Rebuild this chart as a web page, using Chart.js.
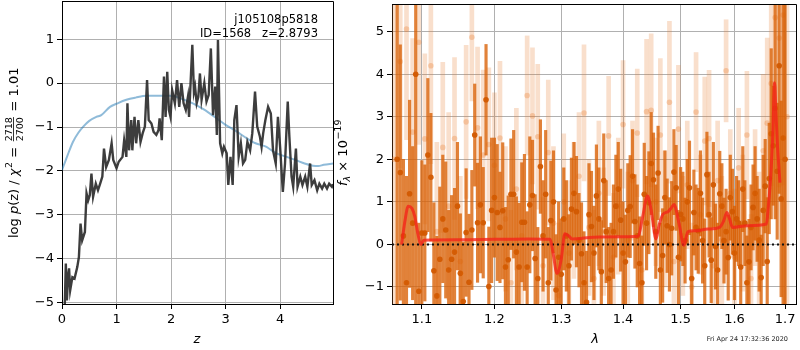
<!DOCTYPE html>
<html>
<head>
<meta charset="utf-8">
<script src="https://cdn.jsdelivr.net/npm/chart.js@4.4.0/dist/chart.umd.min.js"></script>
<style>
body{margin:0;background:#fff;}
#wrap{position:relative;width:800px;height:350px;overflow:hidden;}
#left_box{position:absolute;left:0;top:0;}
#right_box{position:absolute;left:325px;top:0;}
</style>
</head>
<body>
<div id="wrap">
  <canvas id="left_box" width="340" height="350"></canvas>
  <canvas id="right_box" width="475" height="350"></canvas>
</div>
<script>
// ---- left panel: redshift p(z) ----
var obj_name = 'j105108p5818';
var obj_info = 'ID=1568   z=2.8793';
var chi2_num = '2718', chi2_den = '2700', chi2_val = '1.01';

var z_grid = [0.05,0.07,0.09,0.11,0.13,0.15,0.19,0.23,0.28,0.31,0.34,0.37,0.42,0.45,0.48,0.51,0.54,0.57,0.62,0.66,
  0.70,0.74,0.77,0.81,0.86,0.91,0.94,1.00,1.04,1.11,1.14,1.18,1.20,1.23,1.27,1.29,1.33,1.36,1.40,1.44,
  1.48,1.52,1.56,1.59,1.64,1.68,1.73,1.77,1.79,1.83,1.87,1.90,1.93,1.96,1.99,2.02,2.07,2.11,2.15,2.19,
  2.23,2.27,2.31,2.33,2.39,2.42,2.44,2.47,2.50,2.53,2.56,2.61,2.65,2.69,2.73,2.77,2.81,2.84,2.86,2.90,
  2.94,2.97,3.02,3.05,3.09,3.13,3.16,3.20,3.24,3.28,3.32,3.36,3.40,3.45,3.49,3.54,3.58,3.63,3.66,3.69,
  3.73,3.78,3.83,3.87,3.92,3.96,4.00,4.05,4.09,4.14,4.17,4.21,4.24,4.29,4.32,4.37,4.41,4.46,4.50,4.55,
  4.58,4.63,4.68,4.72,4.77,4.81,4.86,4.90,4.95,4.97];
var logp = [-5.1,-4.11,-4.95,-4.4,-4.22,-4.72,-4.42,-4.45,-4.19,-3.96,-3.2,-3.58,-3.39,-2.51,-2.67,-2.55,-2.06,-2.59,-2.29,-2.44,
  -2.29,-2.13,-1.49,-1.91,-1.75,-1.37,-1.75,-1.94,-1.79,-1.68,-1.30,-1.68,-0.46,-1.53,-0.84,-1.53,-0.77,-1.37,-0.84,-1.34,
  -1.14,-0.99,0.07,-0.84,-0.92,-1.11,-1.18,-1.07,-0.80,-1.30,0.15,-0.77,0.26,-0.61,-0.77,-0.16,-0.46,0.07,-0.54,0.0,
  -0.46,-0.61,-0.31,-0.77,0.87,-0.2,-0.08,-0.46,-0.31,0.22,-0.38,0.0,-0.42,-0.27,0.79,-0.73,-0.08,-1.18,0.98,-1.37,
  -1.6,-1.45,-1.6,-2.32,-1.68,-2.32,-0.84,-0.50,-1.68,-1.37,-1.83,-1.75,-1.34,-1.53,-1.14,-0.19,-0.99,-1.22,-1.45,-1.14,
  -0.84,-0.54,-0.69,-1.53,-1.83,-0.77,-1.45,-2.48,-1.83,-0.42,-1.22,-2.13,-2.36,-1.49,-2.36,-2.13,-2.32,-2.13,-2.36,-1.83,
  -2.32,-2.21,-2.44,-2.29,-2.40,-2.29,-2.40,-2.29,-2.36,-2.3];
var z_prior = [0,0.1,0.2,0.3,0.39,0.5,0.63,0.72,0.88,1.0,1.18,1.35,1.55,1.75,1.98,2.2,2.4,2.6,2.8,3.0,
  3.2,3.38,3.55,3.75,3.9,4.12,4.3,4.45,4.6,4.7,4.8,4.97];
var logp_prior = [-1.98,-1.65,-1.34,-1.13,-0.99,-0.86,-0.77,-0.73,-0.54,-0.47,-0.38,-0.33,-0.29,-0.29,-0.29,-0.36,-0.46,-0.6,-0.77,-0.95,
  -1.1,-1.25,-1.37,-1.45,-1.58,-1.68,-1.76,-1.83,-1.88,-1.89,-1.86,-1.83];
var z_ticks = [0,1,2,3,4];
var logp_ticks = [-5,-4,-3,-2,-1,0,1];

// ---- right panel: spectrum (a = faint, b/c = strong) ----
var lam_a = [1.064,1.072,1.080,1.088,1.096,1.104,1.112,1.120,1.128,1.136,1.144,1.152,1.160,1.168,1.176,1.184,1.192,1.200,1.208,1.216,
  1.224,1.232,1.240,1.248,1.256,1.264,1.272,1.280,1.288,1.296,1.304,1.312,1.320,1.328,1.336,1.344,1.352,1.360,1.368,1.376,
  1.384,1.392,1.400,1.408,1.416,1.424,1.432,1.440,1.448,1.456,1.464,1.472,1.480,1.488,1.496,1.504,1.512,1.520,1.528,1.536,
  1.544,1.552,1.560,1.568,1.576,1.584,1.592,1.600,1.608,1.616,1.624,1.632,1.640,1.648,1.656,1.664,1.672,1.680,1.688,1.696,1.704];
var flux_a = [2.0,4.3,5.06,2.64,4.75,2.48,4.2,0.3,2.28,0.9,
  2.49,-0.4,2.88,4.87,2.74,2.1,2.35,1.86,2.5,0.6,
  -0.9,1.3,0.2,3.5,3.02,2.53,-0.5,2.16,0.5,-1.2,
  1.0,-0.2,0.8,1.6,3.09,0.4,-0.8,1.2,0.3,2.55,
  -0.3,0.9,2.82,0.1,1.5,2.62,-0.6,3.12,3.15,1.0,
  2.57,0.6,3.34,-0.4,2.71,0.2,1.4,-1.0,3.11,0.7,
  2.43,2.49,-0.5,1.5,0.1,4.08,1.2,-0.3,1.8,0.5,
  2.57,-0.8,1.1,0.0,2.2,2.85,3.78,5.33,4.85,5.39,3.0];
var err_a = [6.0,2.5,2.6,2.2,2.4,2.0,2.3,2.1,2.0,2.2,
  1.9,2.0,1.8,1.5,1.9,2.0,1.8,1.7,1.8,1.7,
  1.7,1.9,1.8,1.4,1.6,1.7,1.6,1.7,1.8,1.7,
  1.6,1.7,1.6,1.5,1.6,1.6,1.6,1.7,1.5,1.4,
  1.5,1.6,1.5,1.6,1.4,1.5,1.6,1.7,1.8,1.5,
  1.8,1.6,1.9,1.7,1.5,1.4,1.5,1.5,1.4,1.4,
  1.5,1.6,1.5,1.4,1.5,1.2,1.5,1.6,1.4,1.6,
  1.5,1.5,1.6,1.7,1.8,2.0,2.4,3.0,3.5,4.0,5.0];
var lam_b = [1.068,1.076,1.084,1.092,1.100,1.108,1.116,1.124,1.132,1.140,1.148,1.156,1.164,1.172,1.180,1.188,1.196,1.204,1.212,1.220,
  1.228,1.236,1.244,1.252,1.260,1.268,1.276,1.284,1.292,1.300,1.308,1.316,1.324,1.332,1.340,1.348,1.356,1.364,1.372,1.380,
  1.388,1.396,1.404,1.412,1.420,1.428,1.436,1.444,1.452,1.460,1.468,1.476,1.484,1.492,1.500,1.508,1.516,1.524,1.532,1.540,
  1.548,1.556,1.564,1.572,1.580,1.588,1.596,1.604,1.612,1.620,1.628,1.636,1.644,1.652,1.660,1.668,1.676,1.684,1.692,1.700];
var flux_b = [2.0,0.2,1.19,4.0,0.27,2.1,-0.62,-0.35,0.34,-0.35,
  0.9,-1.34,-0.89,2.57,0.93,3.4,0.8,0.75,0.79,-0.36,
  1.18,-0.53,0.52,0.93,-0.33,1.83,1.18,0.56,-1.07,-0.7,
  0.2,0.83,0.77,-0.22,-1.36,0.42,1.14,-0.64,0.3,-0.6,
  0.9,0.57,-0.41,0.89,0.54,-0.45,1.18,0.98,1.52,1.68,
  -0.26,0.44,0.38,1.33,0.71,0.09,1.33,0.75,0.32,0.09,
  1.64,-0.37,-0.05,1.19,0.09,-0.31,0.77,0.6,-0.53,0.5,
  -0.41,0.87,0.6,-0.78,1.37,1.55,2.32,1.72,1.07,2.0];
var err_b = [6.0,1.8,2.2,5.5,1.7,1.8,1.6,1.7,1.6,1.5,
  1.5,1.4,1.6,1.2,1.6,1.3,1.7,1.6,1.6,1.5,
  1.5,1.5,1.6,1.6,1.5,1.1,1.5,1.4,1.3,1.3,
  1.3,1.2,1.3,1.2,1.2,1.3,1.2,1.2,1.2,1.1,
  1.2,1.2,1.1,1.2,1.1,1.1,1.2,1.2,1.1,1.1,
  1.1,1.1,1.1,1.0,1.1,1.0,1.1,1.0,1.0,1.0,
  1.0,1.0,1.0,1.0,1.0,1.0,1.0,1.0,1.0,1.0,
  1.0,1.0,1.0,1.0,1.1,1.3,1.4,1.6,2.3,6.0];
var lam_c = [1.072,1.080,1.088,1.096,1.104,1.112,1.120,1.128,1.136,1.144,1.152,1.160,1.168,1.176,1.184,1.192,1.200,1.208,1.216,1.224,
  1.232,1.240,1.248,1.256,1.264,1.272,1.280,1.288,1.296,1.304,1.312,1.320,1.328,1.336,1.344,1.352,1.360,1.368,1.376,1.384,
  1.392,1.400,1.408,1.416,1.424,1.432,1.440,1.448,1.456,1.464,1.472,1.480,1.488,1.496,1.504,1.512,1.520,1.528,1.536,1.544,
  1.552,1.560,1.568,1.576,1.584,1.592,1.600,1.608,1.616,1.624,1.632,1.640,1.648,1.656,1.664,1.672,1.680,1.688,1.696];
var flux_c = [1.69,-0.9,0.5,-1.1,0.27,1.58,-1.21,0.6,-0.6,-0.18,
  -0.68,0.28,0.34,0.51,0.51,-0.99,1.1,0.4,-0.53,1.18,
  -0.18,0.52,-0.53,1.15,-0.8,0.2,-0.9,1.0,-0.3,0.6,
  -0.5,1.2,0.1,-0.9,0.7,-0.2,0.6,1.5,-0.8,0.3,
  1.3,-0.2,0.8,1.6,0.2,-0.9,0.5,1.9,0.3,-0.6,
  1.1,0.0,1.7,-0.3,0.6,1.0,-0.8,0.4,1.2,-0.5,
  0.7,1.4,-0.6,0.9,0.3,1.1,-0.2,0.5,1.3,-0.9,
  0.4,1.2,0.1,0.8,-0.4,2.6,3.2,4.2,2.5];
var err_c = [3.0,2.5,1.8,1.6,1.6,1.5,1.4,1.5,1.4,1.5,
  1.4,1.5,1.4,1.4,1.3,1.4,1.4,1.3,1.4,1.3,
  1.3,1.4,1.3,1.3,1.2,1.3,1.3,1.2,1.3,1.2,
  1.2,1.2,1.1,1.2,1.2,1.1,1.2,1.1,1.2,1.1,
  1.1,1.2,1.1,1.1,1.2,1.1,1.1,1.2,1.1,1.1,
  1.1,1.1,1.0,1.1,1.1,1.0,1.1,1.0,1.0,1.1,
  1.0,1.0,1.1,1.0,1.0,1.0,1.1,1.0,1.0,1.1,
  1.0,1.1,1.2,1.3,1.5,2.0,2.6,3.0,4.0];
var lam_model = [1.0737,1.078,1.0822,1.087,1.0909,1.0948,1.0987,1.1026,1.15,1.2,1.25,1.283,
  1.2873,1.2935,1.300,1.3056,1.3118,1.317,1.3514,1.40,1.4257,
  1.4326,1.4417,1.448,1.4563,1.4617,1.4687,1.4775,1.4828,1.4881,1.497,1.5059,1.5131,
  1.5252,1.5495,1.5717,1.5793,1.5855,1.5906,1.5963,
  1.6251,1.6624,1.6663,1.6708,1.6752,1.6788,1.6811,1.6842,1.6896];
var flux_model = [0.0,0.55,0.90,0.85,0.65,0.25,0.0,0.10,0.11,0.12,0.13,0.12,
  -0.2,-0.68,-0.35,0.25,0.20,0.13,0.17,0.18,0.19,
  0.6,1.14,0.8,0.13,0.45,0.71,0.77,0.85,0.94,0.5,-0.02,0.30,
  0.32,0.36,0.40,0.55,0.75,0.6,0.40,
  0.44,0.48,0.9,1.56,2.6,3.8,3.2,2.4,1.45];
var lam_ticks = [1.1,1.2,1.3,1.4,1.5,1.6,1.7];
var flux_ticks = [-1,0,1,2,3,4,5];
var stamp_text = 'Fri Apr 24 17:32:36 2020';

Chart.defaults.font.family = "'DejaVu Sans', sans-serif";
Chart.defaults.font.size = 13;
Chart.defaults.color = '#000';

var FONT = "'DejaVu Sans', sans-serif";

function xy(xs, ys){
  var out = [];
  for(var i = 0; i < xs.length; i++){ out.push({x: xs[i], y: ys[i]}); }
  return out;
}

function err_bars(xs, ys, es){
  var out = [];
  for(var i = 0; i < xs.length; i++){ out.push({x: xs[i], y: [ys[i] - es[i], ys[i] + es[i]]}); }
  return out;
}

function minus_fmt(v, digits){
  return (v < 0 ? '\u2212' : '') + Math.abs(v).toFixed(digits);
}

function axis_opts(type, min, max, tick_list, digits, size_key, size){
  return {
    type: type, min: min, max: max, offset: false,
    grid: {color: '#b0b0b0', lineWidth: 1, tickColor: '#000', tickLength: 5, offset: false},
    border: {display: true, color: '#000', width: 1},
    ticks: {color: '#000', padding: 3, autoSkip: false, maxRotation: 0,
      callback: function(v){ return minus_fmt(v, digits); }},
    afterBuildTicks: function(scale){
      scale.ticks = tick_list.map(function(v){ return {value: v}; });
    },
    afterFit: function(scale){
      scale[size_key] = size;
      // keep the plot box where it is, labels may hang over
      scale.paddingTop = 0; scale.paddingBottom = 0;
      scale.paddingLeft = 0; scale.paddingRight = 0;
    }
  };
}

function put(ctx, txt, font, x, dy){
  ctx.font = font;
  ctx.fillText(txt, x, dy);
  return x + ctx.measureText(txt).width;
}

// top and right edges of the box (left/bottom come from the axis borders)
var frame_plugin = {
  id: 'frame',
  afterDatasetsDraw: function(chart){
    var a = chart.chartArea, ctx = chart.ctx;
    var t = Math.round(a.top - 0.5) + 0.5, r = Math.round(a.right - 0.5) + 0.5;
    var b = Math.round(a.bottom - 0.5) + 0.5;
    ctx.save();
    ctx.strokeStyle = '#000';
    ctx.lineWidth = 1;
    ctx.beginPath();
    ctx.moveTo(a.left, t);
    ctx.lineTo(r, t);
    ctx.lineTo(r, b);
    ctx.stroke();
    ctx.restore();
  }
};

var left_text = {
  id: 'left_text',
  afterDraw: function(chart){
    var ctx = chart.ctx;
    ctx.save();
    ctx.fillStyle = '#000';
    ctx.textAlign = 'right';
    ctx.textBaseline = 'middle';
    ctx.font = '11.5px ' + FONT;
    ctx.fillText(obj_name, 318, 20);
    ctx.fillText(obj_info, 318, 34);
    ctx.textAlign = 'center';
    ctx.font = 'italic 13px ' + FONT;
    ctx.fillText('z', 197, 340);

    // y label: log p(z) / chi^2 = num/den = val
    ctx.translate(18, 238);
    ctx.rotate(-Math.PI / 2);
    ctx.textAlign = 'left';
    ctx.textBaseline = 'alphabetic';
    var N = '13px ' + FONT, I = 'italic 13px ' + FONT, S = '9.5px ' + FONT;
    var x = 0;
    x = put(ctx, 'log ', N, x, 0);
    x = put(ctx, 'p', I, x, 0);
    x = put(ctx, '(z) / ', N, x, 0);
    x = put(ctx, '\u03c7', I, x, 0);
    x = put(ctx, '2', S, x + 0.5, -6);
    x = put(ctx, ' = ', N, x, 0);
    ctx.font = S;
    var wn = ctx.measureText(chi2_num).width, wd = ctx.measureText(chi2_den).width;
    var w = Math.max(wn, wd), fx = x + 1.5;
    ctx.fillText(chi2_num, fx + (w - wn) / 2, -6.5);
    ctx.fillText(chi2_den, fx + (w - wd) / 2, 5);
    ctx.fillRect(fx, -4.9, w, 0.8);
    x = fx + w + 1.5;
    put(ctx, ' = ' + chi2_val, N, x, 0);
    ctx.restore();
  }
};

var right_text = {
  id: 'right_text',
  afterDraw: function(chart){
    var ctx = chart.ctx;
    ctx.save();
    ctx.fillStyle = '#000';
    ctx.textAlign = 'center';
    ctx.textBaseline = 'middle';
    ctx.font = 'italic 13px ' + FONT;
    ctx.fillText('\u03bb', 270, 340);
    ctx.textAlign = 'right';
    ctx.fillStyle = '#222';
    ctx.font = '6.5px ' + FONT;
    ctx.fillText(stamp_text, 463, 339);

    ctx.fillStyle = '#000';
    ctx.translate(22, 186);
    ctx.rotate(-Math.PI / 2);
    ctx.textAlign = 'left';
    ctx.textBaseline = 'alphabetic';
    var x = 0;
    x = put(ctx, 'f', 'italic 13px ' + FONT, x, 0);
    x = put(ctx, '\u03bb', 'italic 9.5px ' + FONT, x, 3);
    x = put(ctx, ' \u00d7 10', '13px ' + FONT, x, 0);
    put(ctx, '\u221219', '9.5px ' + FONT, x + 0.5, -6);
    ctx.restore();
  }
};

var left_scales = {
  x: axis_opts('linear', 0, 4.97, z_ticks, 0, 'height', 46),
  y: axis_opts('linear', -5.03, 1.87, logp_ticks, 0, 'width', 62)
};

new Chart(document.getElementById('left_box'), {
  type: 'line',
  data: {
    datasets: [{
      data: xy(z_grid, logp),
      borderColor: 'rgba(45,45,45,0.92)',
      borderWidth: 2.4,
      pointRadius: 0,
      order: 1
    }, {
      data: xy(z_prior, logp_prior),
      borderColor: 'rgba(31,119,180,0.5)',
      borderWidth: 2,
      pointRadius: 0,
      cubicInterpolationMode: 'monotone',
      order: 2
    }]
  },
  options: {
    responsive: false,
    devicePixelRatio: 1,
    animation: false,
    events: [],
    layout: {padding: {left: 0, top: 1, right: 7, bottom: 0}},
    plugins: {legend: {display: false}, tooltip: {enabled: false}},
    scales: left_scales
  },
  plugins: [frame_plugin, left_text]
});

var right_scales = {
  x: axis_opts('logarithmic', 1.0614, 1.7224, lam_ticks, 1, 'height', 46),
  y: axis_opts('linear', -1.40, 5.65, flux_ticks, 0, 'width', 67)
};

new Chart(document.getElementById('right_box'), {
  type: 'scatter',
  data: {
    datasets: [{
      type: 'bar',
      data: err_bars(lam_a, flux_a, err_a),
      backgroundColor: 'rgba(232,120,40,0.24)',
      barThickness: 4,
      grouped: false,
      order: 8
    }, {
      type: 'scatter',
      data: xy(lam_a, flux_a),
      backgroundColor: 'rgba(232,120,40,0.3)',
      pointRadius: 2.8,
      borderWidth: 0,
      order: 7
    }, {
      type: 'bar',
      data: err_bars(lam_c, flux_c, err_c),
      backgroundColor: 'rgba(217,95,2,0.78)',
      barThickness: 2.5,
      grouped: false,
      order: 6
    }, {
      type: 'scatter',
      data: xy(lam_c, flux_c),
      backgroundColor: 'rgba(210,90,2,0.95)',
      pointRadius: 2.8,
      borderWidth: 0,
      order: 5
    }, {
      type: 'bar',
      data: err_bars(lam_b, flux_b, err_b),
      backgroundColor: 'rgba(217,95,2,0.78)',
      barThickness: 2.5,
      grouped: false,
      order: 4
    }, {
      type: 'scatter',
      data: xy(lam_b, flux_b),
      backgroundColor: 'rgba(210,90,2,0.95)',
      pointRadius: 2.8,
      borderWidth: 0,
      order: 3
    }, {
      type: 'line',
      data: xy([1.0614, 1.7224], [0, 0]),
      borderColor: '#111',
      borderWidth: 2,
      borderDash: [2, 3],
      pointRadius: 0,
      order: 2
    }, {
      type: 'line',
      data: xy(lam_model, flux_model),
      borderColor: 'rgba(245,35,25,0.78)',
      borderWidth: 3,
      pointRadius: 0,
      cubicInterpolationMode: 'monotone',
      order: 1
    }]
  },
  options: {
    responsive: false,
    devicePixelRatio: 1,
    animation: false,
    events: [],
    layout: {padding: {left: 0, top: 1, right: 1, bottom: 0}},
    plugins: {legend: {display: false}, tooltip: {enabled: false}},
    scales: right_scales
  },
  plugins: [frame_plugin, right_text]
});
</script>
</body>
</html>
